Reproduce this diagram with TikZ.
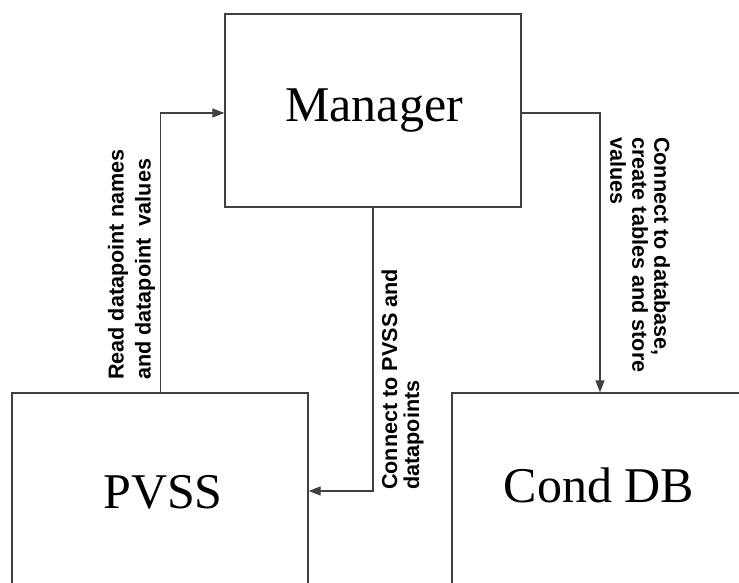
\documentclass[tikz,border=0pt]{standalone}
\usepackage{fontspec}
\setmainfont{Liberation Serif}
\newfontfamily\labfont{Liberation Sans}[BoldFont={Liberation Sans Bold}]
\usetikzlibrary{arrows.meta}
\begin{document}
\begin{tikzpicture}[x=1pt,y=-1pt,
  box/.style={draw=black!75,line width=1.3pt,inner sep=0pt,rectangle},
  big/.style={font=\fontsize{50}{56}\selectfont,inner sep=0pt},
  arr/.style={draw=black!75,line width=1.3pt,-{Triangle[length=12pt,width=9pt]}},
  lab/.style={font=\labfont\bfseries\fontsize{21.6}{22}\selectfont,align=left,inner sep=0pt,anchor=west}]
\useasboundingbox (0,0) rectangle (739,583);
\clip (0,0) rectangle (739,583);
\fill[white] (0,0) rectangle (739,583);
% boxes
\node[box,minimum width=296pt,minimum height=193pt] (manager) at (373,110.5) {};
\node[big,anchor=base] (managerT) at (374,122) {Manager};
\node[box,minimum width=296pt,minimum height=196pt] (pvss) at (160,491) {};
\node[big,anchor=base] (pvssT) at (163,508) {PVSS};
\node[box,minimum width=296pt,minimum height=196pt] (conddb) at (600,491) {};
\node[big,anchor=base] (conddbT) at (599,502) {Cond DB};
% connectors
\draw[arr] ([xshift=149pt]pvss.north west) |- ([yshift=-2.5pt]manager.west);
\draw[arr] (manager.south) |- (pvss.east);
\draw[arr] ([yshift=-2.5pt]manager.east) -| (conddb.north);
% labels
\node[lab,rotate=90,font=\labfont\bfseries\fontsize{21.6}{27}\selectfont] (l1) at (131.5,380) {Read datapoint names\\and datapoint~ values};
\node[lab,rotate=90] (l2) at (402.5,490) {Connect to PVSS and\\datapoints};
\node[lab,rotate=-90] (l3) at (640,137) {Connect to database,\\create tables and store\\values};
\end{tikzpicture}
\end{document}
